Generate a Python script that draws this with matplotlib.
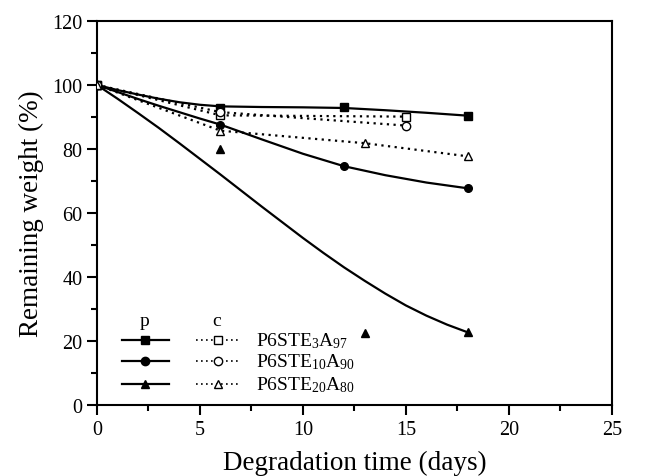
import matplotlib
matplotlib.use("Agg")
import matplotlib.pyplot as plt
from matplotlib.lines import Line2D
from matplotlib.ticker import MultipleLocator

plt.rcParams['font.family'] = ['Liberation Serif', 'DejaVu Serif']
plt.rcParams['mathtext.fontset'] = 'custom'
plt.rcParams['mathtext.rm'] = 'Liberation Serif'
plt.rcParams['mathtext.default'] = 'regular'

# ---- data ----
# p series (measured points)
p_sq_days = [0, 6, 12, 18]
p_sq_vals = [100, 92.8, 93.2, 90.4]
p_ci_days = [0, 6, 12, 18]
p_ci_vals = [100, 87.6, 74.6, 67.7]
p_tr_days = [0, 6, 13, 18]
p_tr_vals = [100, 80.0, 22.4, 22.7]

# p series fitted curves
fit_sq_days = [0, 1, 2, 3, 4, 5, 6, 8, 10, 12, 14, 16, 18]
fit_sq_vals = [100, 98.4, 97.0, 95.7, 94.6, 93.8, 93.3, 93.1, 93.0, 92.8, 92.1, 91.3, 90.4]
fit_ci_days = [0, 1, 2, 3, 4, 5, 6, 8, 10, 12, 14, 16, 18]
fit_ci_vals = [100, 97.8, 95.6, 93.5, 91.5, 89.5, 87.6, 83.0, 78.5, 74.6, 71.8, 69.5, 67.7]
fit_tr_days = [0, 1, 2, 3, 4, 5, 6, 7, 8, 9, 10, 11, 12, 13, 14, 15, 16, 17, 18]
fit_tr_vals = [100, 95.7, 91.2, 86.6, 81.8, 76.9, 72.0, 67.0, 62.0, 57.1, 52.2, 47.5, 43.0,
               38.8, 34.8, 31.1, 27.9, 25.1, 22.7]

# c series
c_sq_days = [0, 6, 15]
c_sq_vals = [100, 90.5, 90.1]
c_ci_days = [0, 6, 15]
c_ci_vals = [100, 91.5, 87.3]
c_tr_days = [0, 6, 13, 18]
c_tr_vals = [100, 85.7, 81.8, 77.7]

labels = [r'P6STE$_{3}$A$_{97}$', r'P6STE$_{10}$A$_{90}$', r'P6STE$_{20}$A$_{80}$']
markers = ['s', 'o', '^']

fig = plt.figure(figsize=(6.46, 4.77), dpi=100)
ax = fig.add_axes([0.150, 0.149, 0.797, 0.805])

lw = 1.6
ms = 5.5
# fitted solid curves
for d, v in [(fit_sq_days, fit_sq_vals), (fit_ci_days, fit_ci_vals), (fit_tr_days, fit_tr_vals)]:
    ax.plot(d, v, '-', color='black', lw=lw, zorder=2, solid_joinstyle='round')
# p markers
for (d, v), m in zip([(p_sq_days, p_sq_vals), (p_ci_days, p_ci_vals), (p_tr_days, p_tr_vals)], markers):
    ax.plot(d, v, linestyle='none', marker=m, color='black', ms=ms, zorder=3)
# c dotted lines with open markers
for (d, v), m in zip([(c_sq_days, c_sq_vals), (c_ci_days, c_ci_vals), (c_tr_days, c_tr_vals)], markers):
    ax.plot(d, v, linestyle=(0, (1, 2)), lw=1.6, marker=m, color='black',
            mfc='white', mec='black', mew=1.0, ms=ms + 0.5, zorder=4)

ax.set_xlim(0, 25)
ax.set_ylim(0, 120)
ax.xaxis.set_major_locator(MultipleLocator(5))
ax.xaxis.set_minor_locator(MultipleLocator(2.5))
ax.yaxis.set_major_locator(MultipleLocator(20))
ax.yaxis.set_minor_locator(MultipleLocator(10))
ax.tick_params(which='both', direction='out', top=False, right=False, width=1.5,
               labelsize=14.5, colors='black')
ax.tick_params(which='major', length=7)
ax.tick_params(which='minor', length=4)
for s in ax.spines.values():
    s.set_linewidth(1.5)

ax.set_xlabel('Degradation time (days)', fontsize=19.5, labelpad=8)
ax.set_ylabel('Remaining weight (%)', fontsize=19.5, labelpad=6)

# custom legend (axes-fraction layout)
tr = ax.transAxes
def fx(px):
    return (px - 97) / (612 - 97)
def fy(py):
    return (406 - py) / (406 - 22)

ax.text(fx(145), fy(322), 'p', transform=tr, ha='center', va='center', fontsize=14)
ax.text(fx(217), fy(322), 'c', transform=tr, ha='center', va='center', fontsize=14)
rows_y = [341, 362, 385]
for ry, m, lab in zip(rows_y, markers, labels):
    ax.add_line(Line2D([fx(122), fx(169)], [fy(ry), fy(ry)], transform=tr, color='black',
                       lw=lw, clip_on=False))
    ax.add_line(Line2D([fx(145)], [fy(ry)], transform=tr, marker=m, color='black',
                       ms=ms + 0.5, linestyle='none', clip_on=False))
    ax.add_line(Line2D([fx(196), fx(239)], [fy(ry), fy(ry)], transform=tr, color='black',
                       lw=1.2, linestyle=(0, (1, 2)), clip_on=False))
    ax.add_line(Line2D([fx(218)], [fy(ry)], transform=tr, marker=m, color='black', mfc='white',
                       mew=1.0, ms=ms + 0.5, linestyle='none', clip_on=False))
    ax.text(fx(256), fy(ry), lab, transform=tr, ha='left', va='center', fontsize=14)

fig.savefig('out.png', dpi=100)
